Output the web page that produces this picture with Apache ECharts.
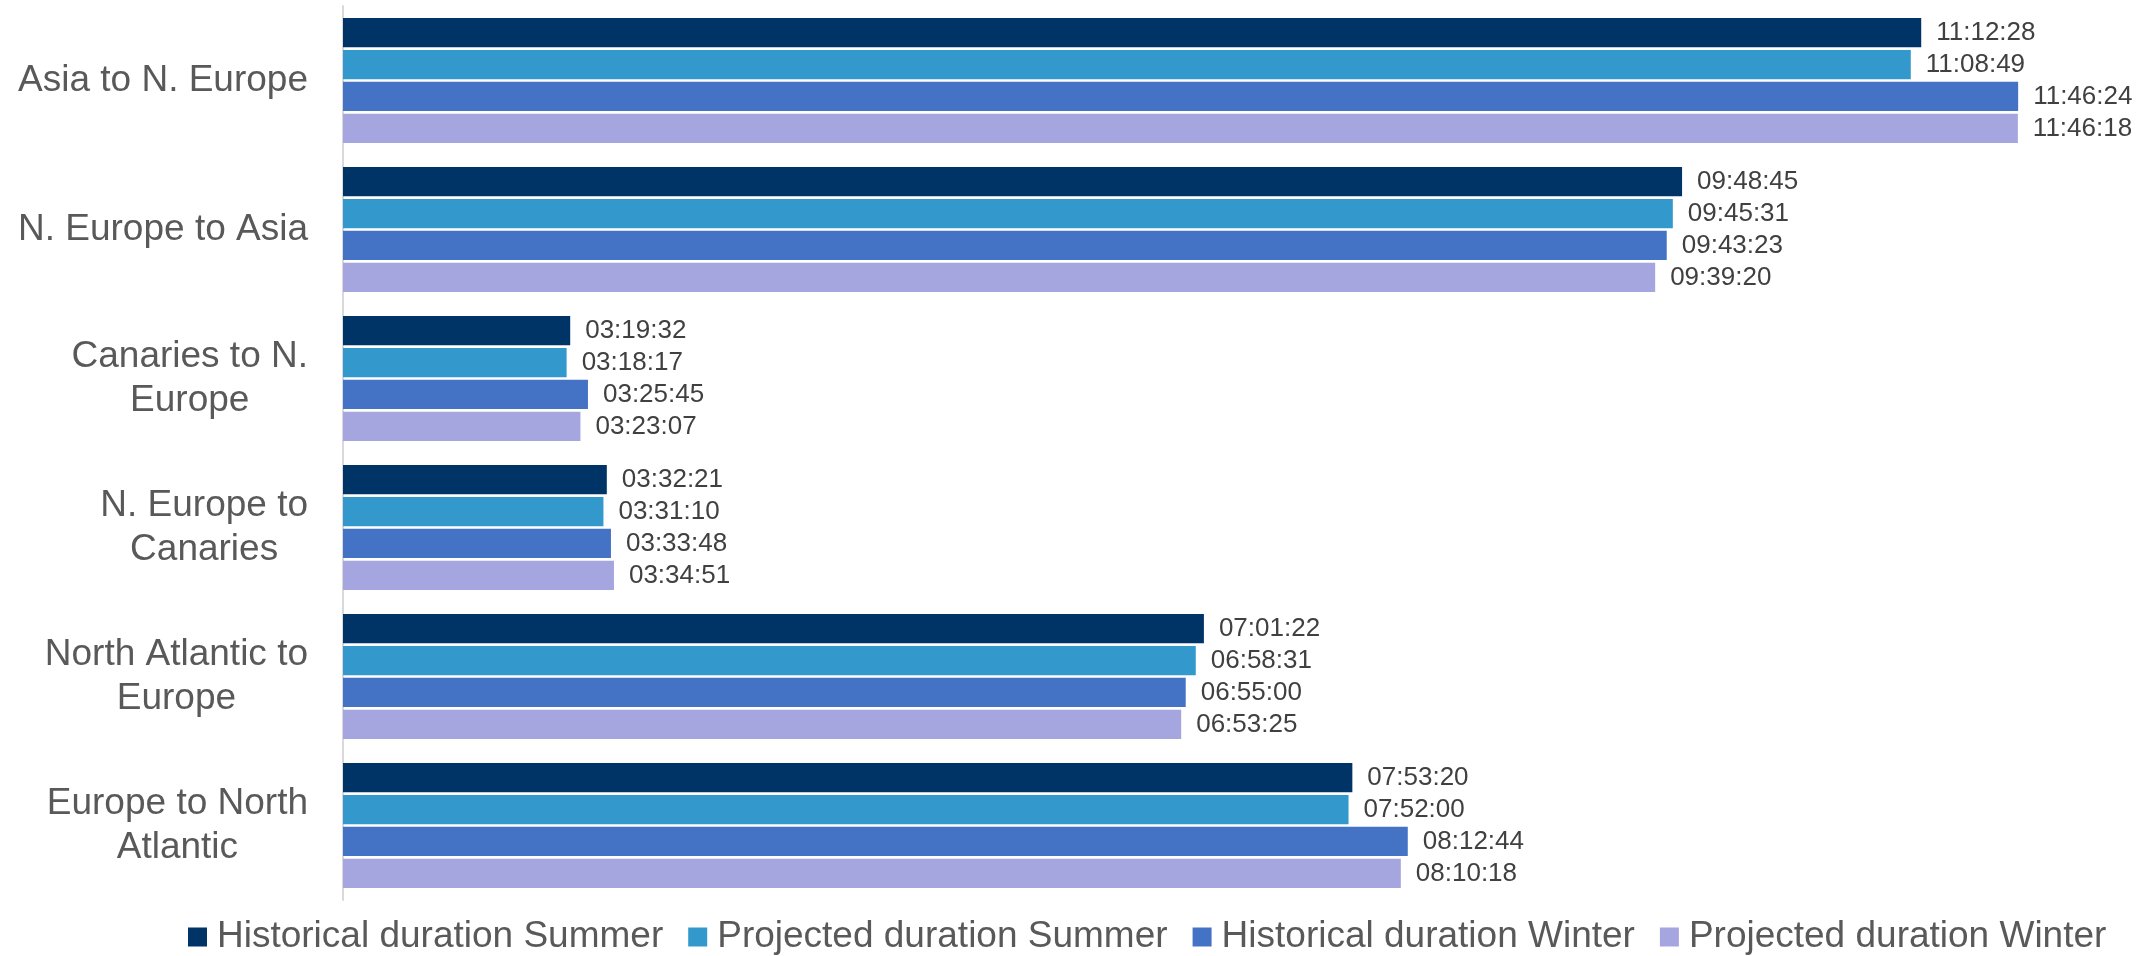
<!DOCTYPE html>
<html>
<head>
<meta charset="utf-8">
<title>Voyage durations</title>
<script src="https://cdn.jsdelivr.net/npm/echarts@6/dist/echarts.min.js"></script>
<style>
  html, body { margin: 0; padding: 0; background: #fff; }
  #chart { width: 2156px; height: 956px; }
</style>
</head>
<body>
<div id="chart"></div>
<script>
  // routes, top to bottom
  var routes = [
    'Asia to N. Europe',
    'N. Europe to Asia',
    'Canaries to N.\nEurope',
    'N. Europe to\nCanaries',
    'North Atlantic to\nEurope',
    'Europe to North\nAtlantic'
  ];
  var seriesNames = [
    'Historical duration Summer',
    'Projected duration Summer',
    'Historical duration Winter',
    'Projected duration Winter'
  ];
  // durations (hh:mm:ss)
  var histSummer = ['11:12:28', '09:48:45', '03:19:32', '03:32:21', '07:01:22', '07:53:20'];
  var projSummer = ['11:08:49', '09:45:31', '03:18:17', '03:31:10', '06:58:31', '07:52:00'];
  var histWinter = ['11:46:24', '09:43:23', '03:25:45', '03:33:48', '06:55:00', '08:12:44'];
  var projWinter = ['11:46:18', '09:39:20', '03:23:07', '03:34:51', '06:53:25', '08:10:18'];

  var colors = ['#003366', '#3399CC', '#4472C4', '#A5A5DF'];

  function toSeconds(s) {
    var p = s.split(':');
    return (+p[0]) * 3600 + (+p[1]) * 60 + (+p[2]);
  }

  var font = '"Liberation Sans", Arial, sans-serif';
  var allData = [histSummer, projSummer, histWinter, projWinter];

  var series = allData.map(function (arr, i) {
    return {
      name: seriesNames[i],
      type: 'bar',
      barWidth: 29.3,
      barGap: '9%',
      itemStyle: { color: colors[i] },
      label: {
        show: true,
        position: 'right',
        distance: 15,
        fontFamily: font,
        fontSize: 26,
        color: '#404040',
        formatter: function (p) { return arr[p.dataIndex]; }
      },
      data: arr.map(toSeconds)
    };
  });

  var chart = echarts.init(document.getElementById('chart'));
  chart.setOption({
    animation: false,
    color: colors,
    grid: { left: 343, right: 99, top: 6, height: 894 },
    legend: {
      data: seriesNames,
      left: 188,
      top: 917,
      padding: 0,
      icon: 'rect',
      itemWidth: 19,
      itemHeight: 19,
      itemGap: 25,
      textStyle: {
        fontFamily: font,
        fontSize: 37,
        color: '#595959',
        lineHeight: 40,
        padding: [0, 0, 0, 5]
      }
    },
    xAxis: {
      type: 'value',
      min: 7200,
      max: 43200,
      show: false
    },
    yAxis: {
      type: 'category',
      inverse: true,
      data: routes,
      axisLine: { lineStyle: { color: '#D9D9D9', width: 2 } },
      axisTick: { show: false },
      axisLabel: {
        margin: 35,
        formatter: function (v) {
          return v.split('\n').map(function (l) { return '{c|' + l + '}'; }).join('\n');
        },
        rich: {
          c: {
            align: 'center',
            fontFamily: font,
            fontSize: 37,
            lineHeight: 44,
            color: '#595959'
          }
        }
      }
    },
    series: series
  });
</script>
</body>
</html>
